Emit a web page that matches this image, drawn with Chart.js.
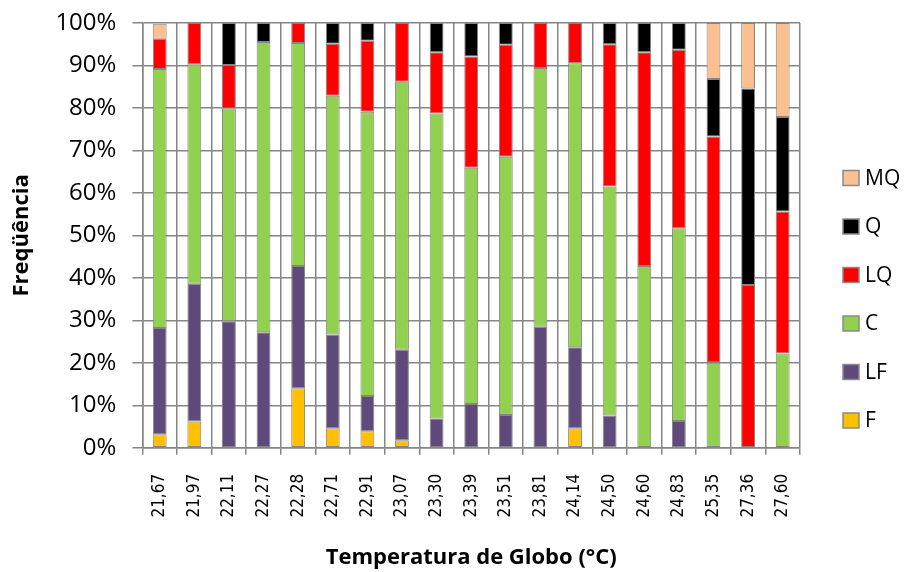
<!DOCTYPE html>
<html>
<head>
<meta charset="utf-8">
<script src="https://cdn.jsdelivr.net/npm/chart.js@4/dist/chart.umd.min.js"></script>
<style>
html,body{margin:0;padding:0;background:#fff;}
#wrap{width:908px;height:572px;position:relative;}
</style>
</head>
<body>
<div id="wrap"><canvas id="c"></canvas></div>
<script>
const categories = ["21,67","21,97","22,11","22,27","22,28","22,71","22,91","23,07","23,30","23,39","23,51","23,81","24,14","24,50","24,60","24,83","25,35","27,36","27,60"];
const F  = [3.2, 6.2, 0,    0,    14.0, 4.6,  3.9,  1.8,  0,    0,    0,    0,    4.6,  0,    0,    0,    0,    0,    0];
const LF = [25.0,32.4,29.8, 27.2, 28.8, 22.1, 8.3,  21.3, 6.9,  10.3, 7.7,  28.5, 19.1, 7.6,  0,    6.3,  0,    0,    0];
const C  = [61.0,51.7,50.1, 68.3, 52.5, 56.2, 66.9, 63.1, 71.8, 55.6, 60.8, 60.9, 66.8, 53.9, 42.8, 45.4, 20.0, 0,    22.2];
const LQ = [7.1, 9.7, 10.2, 0,    4.7,  12.2, 16.7, 13.8, 14.4, 26.2, 26.4, 10.6, 9.5,  33.5, 50.3, 42.0, 53.3, 38.3, 33.4];
const Q  = [0,   0,   9.9,  4.5,  0,    4.9,  4.2,  0,    6.9,  7.9,  5.1,  0,    0,    5.0,  6.9,  6.3,  13.5, 46.3, 22.3];
const MQ = [3.5, 0,   0,    0,    0,    0,    0,    0,    0,    0,    0,    0,    0,    0,    0,    0,    13.2, 15.4, 22.1];
const yTicks = ["0%","10%","20%","30%","40%","50%","60%","70%","80%","90%","100%"];

const seriesNames = ["F","LF","C","LQ","Q","MQ"];
const seriesData = [F, LF, C, LQ, Q, MQ];
const seriesColors = ["#FFC000","#604A7B","#92D050","#FF0000","#000000","#FAC090"];

const FONT = "'Open Sans', 'Liberation Sans', sans-serif";
const GRID = '#868686';
const Y_TICK_LEN = 26;   // label offset from axis
const Y_TICK_MARK = 10;  // visible tick mark length

const sideLegend = {
  id: 'sideLegend',
  afterDraw(chart) {
    const ctx = chart.ctx;
    const ds = chart.data.datasets.slice().reverse();
    ctx.save();
    ctx.font = "21px " + FONT;
    ctx.textBaseline = 'middle';
    ctx.textAlign = 'left';
    ds.forEach((d, i) => {
      const cy = 178 + i * 48.5;
      ctx.fillStyle = d.backgroundColor;
      ctx.fillRect(843, cy - 7.5, 16, 15);
      ctx.strokeStyle = '#8a8a8a';
      ctx.lineWidth = 1.5;
      ctx.strokeRect(843, cy - 7.5, 16, 15);
      ctx.fillStyle = '#000';
      ctx.fillText(d.label, 865, cy + 1);
    });
    ctx.restore();
  }
};

new Chart(document.getElementById('c'), {
  type: 'bar',
  data: {
    labels: categories,
    datasets: seriesNames.map((n, i) => ({
      label: n,
      data: seriesData[i],
      backgroundColor: seriesColors[i],
      borderColor: '#858585',
      borderWidth: 1,
      borderSkipped: false,
      barPercentage: 0.4,
      categoryPercentage: 1.0
    }))
  },
  plugins: [sideLegend],
  options: {
    responsive: true,
    maintainAspectRatio: false,
    animation: false,
    devicePixelRatio: 1,
    layout: { padding: { left: 0, right: 108, top: 23, bottom: 1 } },
    plugins: {
      tooltip: { enabled: false },
      legend: { display: false }
    },
    scales: {
      x: {
        stacked: true,
        grid: { color: GRID, lineWidth: 1.5, offset: true, tickLength: 7 },
        border: { color: GRID, width: 1.5 },
        ticks: {
          color: '#000',
          maxRotation: 90, minRotation: 90,
          autoSkip: false,
          padding: 19,
          font: { family: "'DejaVu Sans Condensed', 'DejaVu Sans', sans-serif", size: 17 }
        },
        title: {
          display: true,
          text: 'Temperatura de Globo (°C)',
          color: '#000',
          font: { family: FONT, size: 22, weight: 'bold' },
          padding: { top: 8, bottom: 0 }
        }
      },
      y: {
        stacked: true,
        min: 0, max: 100,
        grid: {
          color: GRID, lineWidth: 1.5, tickLength: Y_TICK_LEN,
          tickBorderDash: [Y_TICK_MARK, Y_TICK_LEN - Y_TICK_MARK],
          tickBorderDashOffset: Y_TICK_MARK
        },
        border: { color: GRID, width: 1.5 },
        ticks: {
          stepSize: 10,
          color: '#000',
          padding: 0,
          font: { family: FONT, size: 24 },
          callback: (v) => yTicks[Math.round(v / 10)]
        },
        title: {
          display: true,
          text: 'Freqüência',
          color: '#000',
          font: { family: FONT, size: 22, weight: 'bold' },
          padding: { top: 9, bottom: 20 }
        }
      }
    }
  }
});
</script>
</body>
</html>
